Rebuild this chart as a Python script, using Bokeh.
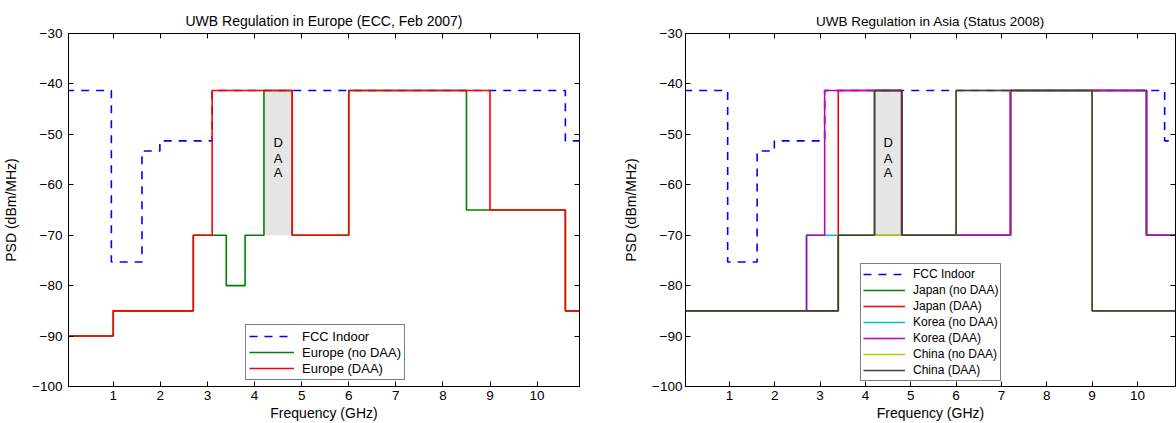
from bokeh.plotting import figure
from bokeh.layouts import row
from bokeh.models import LinearAxis, FixedTicker, Range1d
from bokeh.core.properties import value
from bokeh.embed import file_html
from bokeh.resources import INLINE

FONT = "Liberation Sans"

# ---------------- data ----------------
x_ticks = [1, 2, 3, 4, 5, 6, 7, 8, 9, 10]
y_ticks = [-100, -90, -80, -70, -60, -50, -40, -30]
y_tick_labels = ["\u2212100", "\u221290", "\u221280", "\u221270", "\u221260", "\u221250", "\u221240", "\u221230"]

# FCC indoor mask (step edges in GHz, level in dBm/MHz)
fcc_f = [0.0, 0.96, 1.61, 1.99, 3.1, 10.6, 11.0]
fcc_psd = [-41.3, -75.3, -53.3, -51.3, -41.3, -51.3, -51.3]

# Europe
eu_nodaa_f = [0.0, 1.0, 2.7, 3.4, 3.8, 4.2, 4.8, 6.0, 8.5, 10.6, 11.0]
eu_nodaa_psd = [-90, -85, -70, -80, -70, -41.3, -70, -41.3, -65, -85, -85]
eu_daa_f = [0.0, 1.0, 2.7, 3.1, 4.8, 6.0, 9.0, 10.6, 11.0]
eu_daa_psd = [-90, -85, -70, -41.3, -70, -41.3, -65, -85, -85]

# Asia
jp_nodaa_f = [0.0, 3.4, 4.2, 4.8, 7.2, 10.2, 11.0]
jp_nodaa_psd = [-85, -70, -41.3, -70, -41.3, -70, -70]
jp_daa_f = [0.0, 3.4, 4.8, 7.2, 10.2, 11.0]
jp_daa_psd = [-85, -41.3, -70, -41.3, -70, -70]
kr_nodaa_f = [0.0, 2.7, 7.2, 10.2, 11.0]
kr_nodaa_psd = [-85, -70, -41.3, -70, -70]
kr_daa_f = [0.0, 2.7, 3.1, 4.8, 7.2, 10.2, 11.0]
kr_daa_psd = [-85, -70, -41.3, -70, -41.3, -70, -70]
cn_nodaa_f = [0.0, 3.4, 6.0, 9.0, 11.0]
cn_nodaa_psd = [-85, -70, -41.3, -85, -85]
cn_daa_f = [0.0, 3.4, 4.2, 4.8, 6.0, 9.0, 11.0]
cn_daa_psd = [-85, -70, -41.3, -70, -41.3, -85, -85]

# DAA band annotation
daa_band_f = [4.2, 4.8]
daa_band_psd = [-70, -41.3]
daa_letters = ["D", "A", "A"]
daa_letter_f = [4.5, 4.5, 4.5]
daa_letter_psd = [-51.7, -54.7, -57.6]

# ---------------- helpers ----------------
def make_fig(title, width, bl, br, x_start, x_end, label_standoff, title_size):
    p = figure(width=width, height=423, output_backend="svg", toolbar_location=None,
               x_range=Range1d(x_start, x_end), y_range=Range1d(-100, -30),
               min_border_left=bl, min_border_right=br, min_border_top=33, min_border_bottom=36)
    p.title.text = title
    p.title.align = "center"
    p.title.text_font = FONT
    p.title.text_font_size = title_size
    p.title.text_font_style = "normal"
    p.title.text_color = "black"
    p.grid.visible = False
    p.outline_line_color = "black"
    p.outline_line_width = 1
    p.background_fill_color = "white"
    p.border_fill_color = "white"

    bottom = p.below[0]
    left = p.left[0]
    bottom.ticker = FixedTicker(ticks=x_ticks)
    left.ticker = FixedTicker(ticks=y_ticks)
    left.major_label_overrides = {t: s for t, s in zip(y_ticks, y_tick_labels)}
    bottom.axis_label = "Frequency (GHz)"
    left.axis_label = "PSD (dBm/MHz)"
    left.major_label_standoff = label_standoff
    bottom.major_label_standoff = 4
    bottom.axis_label_standoff = 2
    left.axis_label_standoff = 10
    for ax in [bottom, left]:
        ax.major_label_text_font = FONT
        ax.major_label_text_font_size = "13.5px"
        ax.major_label_text_color = "black"
        ax.axis_label_text_font = FONT
        ax.axis_label_text_font_style = "normal"
        ax.axis_label_text_font_size = "14px"
        ax.axis_label_text_color = "black"

    top = LinearAxis(ticker=FixedTicker(ticks=x_ticks))
    right = LinearAxis(ticker=FixedTicker(ticks=y_ticks))
    p.add_layout(top, "above")
    p.add_layout(right, "right")
    for ax in [top, right]:
        ax.major_label_text_color = None
        ax.major_label_text_font_size = "1px"
        ax.major_label_standoff = 0

    for ax in [bottom, left, top, right]:
        ax.major_tick_in = 5
        ax.major_tick_out = 0
        ax.minor_tick_in = 0
        ax.minor_tick_out = 0
        ax.axis_line_color = "black"
        ax.major_tick_line_color = "black"

    # DAA band
    p.quad(left=daa_band_f[0], right=daa_band_f[1], bottom=daa_band_psd[0], top=daa_band_psd[1],
           fill_color="#e6e6e6", line_color=None)
    p.text(x=daa_letter_f, y=daa_letter_psd, text=daa_letters, text_align="center",
           text_baseline="middle", text_font=value(FONT), text_font_size="13px", text_color="black")
    p.step(fcc_f, fcc_psd, mode="after", line_color="#0000ff", line_width=1.6, line_dash="8 7",
           legend_label="FCC Indoor")
    return p


def style_legend(p, loc, font_size, padding, glyph_w, standoff):
    lg = p.legend[0]
    lg.location = loc
    lg.border_line_color = "black"
    lg.border_line_width = 1
    lg.background_fill_alpha = 1
    lg.label_text_font = FONT
    lg.label_text_font_size = font_size
    lg.label_text_color = "black"
    lg.glyph_width = glyph_w
    lg.glyph_height = 16
    lg.label_height = 16
    lg.spacing = 0
    lg.padding = padding
    lg.margin = 0
    lg.label_standoff = standoff


LW = 1.6

p1 = make_fig("UWB Regulation in Europe (ECC, Feb 2007)", 600, 68, 21, 0.05, 10.9, 6, "14px")
p1.step(eu_nodaa_f, eu_nodaa_psd, mode="after", line_color="#008000", line_width=LW, legend_label="Europe (no DAA)")
p1.step(eu_daa_f, eu_daa_psd, mode="after", line_color="#ff0000", line_width=LW, legend_label="Europe (DAA)")
style_legend(p1, (177, 6), "13px", 3, 45, 8)

p2 = make_fig("UWB Regulation in Asia (Status 2008)", 576, 85, 1, 0.03, 10.84, 3, "13.5px")
asia = [
    (jp_nodaa_f, jp_nodaa_psd, "#008000", "Japan (no DAA)"),
    (jp_daa_f, jp_daa_psd, "#ff0000", "Japan (DAA)"),
    (kr_nodaa_f, kr_nodaa_psd, "#00bfbf", "Korea (no DAA)"),
    (kr_daa_f, kr_daa_psd, "#bf00bf", "Korea (DAA)"),
    (cn_nodaa_f, cn_nodaa_psd, "#bfbf00", "China (no DAA)"),
    (cn_daa_f, cn_daa_psd, "#404040", "China (DAA)"),
]
for f, psd, col, lab in asia:
    p2.step(f, psd, mode="after", line_color=col, line_width=LW, legend_label=lab)
style_legend(p2, (175, 5), "12px", 2, 42, 8)

layout = row(p1, p2, spacing=0)
open("out.html", "w").write(file_html(layout, INLINE))
